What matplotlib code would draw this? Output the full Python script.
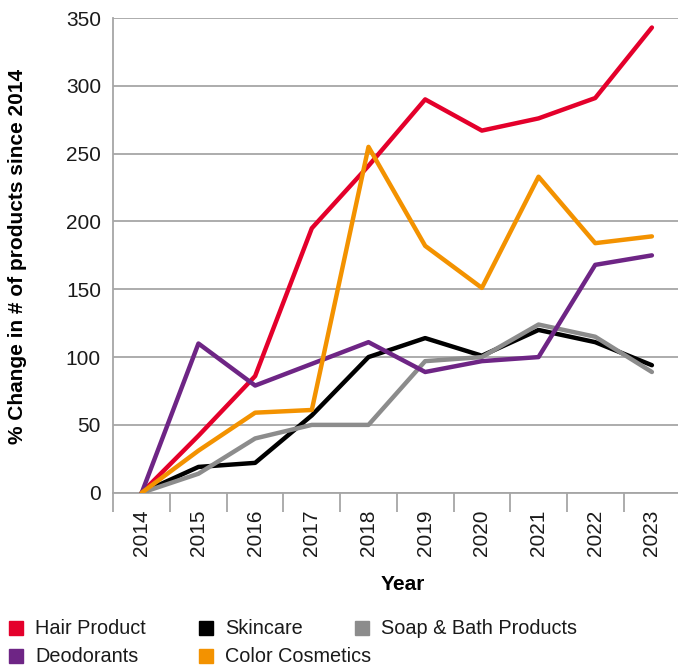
import matplotlib.pyplot as plt
import matplotlib.patches as mpatches
import numpy as np

plt.rcParams['font.family'] = ['Liberation Sans', 'DejaVu Sans']

years = ['2014', '2015', '2016', '2017', '2018', '2019', '2020', '2021', '2022', '2023']

hair = [0, 42, 86, 195, 241, 290, 267, 276, 291, 343]
skincare = [0, 19, 22, 57, 100, 114, 101, 120, 111, 94]
soap = [0, 14, 40, 50, 50, 97, 100, 124, 115, 89]
deodorants = [0, 110, 79, 95, 111, 89, 97, 100, 168, 175]
cosmetics = [0, 31, 59, 61, 255, 182, 151, 233, 184, 189]

names = ['Hair Product', 'Skincare', 'Soap & Bath Products', 'Deodorants', 'Color Cosmetics']
colors = ['#e4002b', '#000000', '#8c8c8c', '#6e2585', '#f39200']
series = [hair, skincare, soap, deodorants, cosmetics]

grid_col = '#a6a6a6'
txt_col = '#1a1a1a'

fig = plt.figure(figsize=(6.78, 6.65), dpi=100)
ax = fig.add_axes((0.1673, 0.2591, 0.836, 0.7138))

x = np.arange(len(years))
for vals, col in zip(series, colors):
    ax.plot(x, vals, color=col, lw=3.2, solid_capstyle='round',
            solid_joinstyle='round', zorder=3)

ax.set_xlim(-0.5, len(years) - 0.5)
ax.set_ylim(0, 350)
ax.set_yticks(range(0, 351, 50))
ax.yaxis.grid(True, color=grid_col, lw=1.3)
ax.set_axisbelow(True)

ax.spines[['top', 'right']].set_visible(False)
for s in ['left', 'bottom']:
    ax.spines[s].set_color(grid_col)
    ax.spines[s].set_linewidth(1.3)

ax.set_xticks(x)
ax.set_xticklabels(years, rotation=90, va='top')
ax.set_xticks(np.arange(-0.5, len(years), 1), minor=True)
ax.tick_params(axis='x', which='major', length=0, pad=12, labelsize=15, colors=txt_col)
ax.tick_params(axis='x', which='minor', length=13.7, width=1.3, color=grid_col, direction='out')
ax.tick_params(axis='y', length=0, pad=9, labelsize=15, colors=txt_col)

fig.text(18 / 678, 1 - 256 / 665, '% Change in # of products since 2014',
         rotation=90, ha='center', va='center', fontsize=15, fontweight='bold')
fig.text(403 / 678, 1 - 584 / 665, 'Year', ha='center', va='center',
         fontsize=15, fontweight='bold')

# legend, placed by hand
legend_pos = [(9, 628), (199, 628), (355, 628), (9, 656), (199, 656)]
for (px, py), name, col in zip(legend_pos, names, colors):
    fig.patches.append(mpatches.Rectangle((px / 678, 1 - (py + 7) / 665), 14 / 678, 14 / 665,
                                          transform=fig.transFigure, color=col))
    fig.text((px + 26) / 678, 1 - py / 665, name, ha='left', va='center',
             fontsize=14.3, color=txt_col)

fig.savefig('out.png', dpi=100)
